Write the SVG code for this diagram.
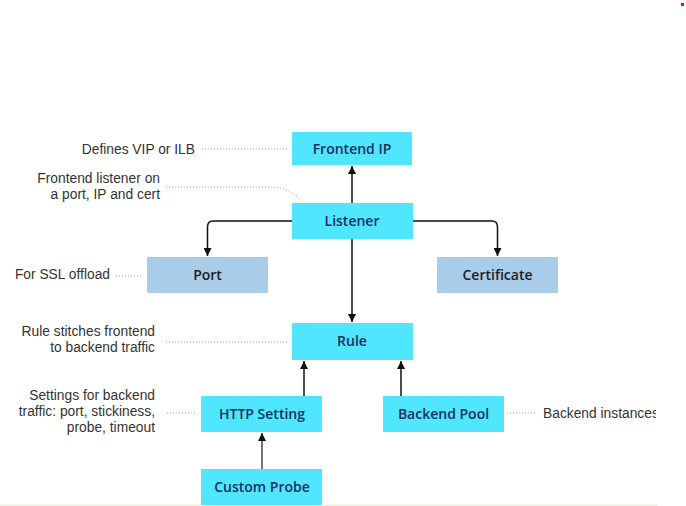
<svg xmlns="http://www.w3.org/2000/svg" width="686" height="506" viewBox="0 0 686 506">
<defs>
<style>
.n{fill:#50e6ff}
.g{fill:#a9cce9}
.t{font-family:"Open Sans","Noto Sans",sans-serif;font-size:14px;font-weight:600;fill:#16305e;text-anchor:middle}
.tg{fill:#1e1e1e}
.a{font-family:"Liberation Sans",Arial,sans-serif;font-size:13.8px;fill:#333;text-anchor:end}
.c{fill:none;stroke:#111;stroke-width:1.5}
.d{fill:none;stroke:#999;stroke-width:1;stroke-dasharray:1 2}
</style>
<marker id="ah" viewBox="0 0 10 10" refX="10" refY="5" markerWidth="8" markerHeight="8" markerUnits="userSpaceOnUse" orient="auto">
<path d="M0,0 L10,5 L0,10 z" fill="#111"/>
</marker>
<clipPath id="clip"><rect x="0" y="0" width="656" height="506"/></clipPath>
</defs>
<rect width="686" height="506" fill="#fff"/>
<rect x="0" y="504.5" width="657" height="1.5" fill="#f3ede0"/>
<rect x="681" y="3" width="3" height="3" fill="#e81123"/>
<g id="connectors">
<path class="c" d="M352,203 V166" marker-end="url(#ah)"/>
<path class="c" d="M292,221 H213 Q207.5,221 207.5,227 V256" marker-end="url(#ah)"/>
<path class="c" d="M412,221 H492 Q497.5,221 497.5,227 V256" marker-end="url(#ah)"/>
<path class="c" d="M352,238 V322" marker-end="url(#ah)"/>
<path class="c" d="M304,396 V361" marker-end="url(#ah)"/>
<path class="c" d="M401,396 V361" marker-end="url(#ah)"/>
<path class="c" d="M262,469 V433" marker-end="url(#ah)" style="stroke:#444"/>
</g>
<g id="annotations">
<path class="d" d="M202,149 H287"/>
<text class="a" x="195" y="154">Defines VIP or ILB</text>
<path class="d" d="M166,187 H268 Q290,187 299,199"/>
<text class="a" x="160" y="183">Frontend listener on</text>
<text class="a" x="160" y="199">a port, IP and cert</text>
<path class="d" d="M116,276 H143"/>
<text class="a" x="110" y="279">For SSL offload</text>
<path class="d" d="M166,342 H288"/>
<text class="a" x="155" y="336">Rule stitches frontend</text>
<text class="a" x="155" y="352">to backend traffic</text>
<path class="d" d="M167,413 H197"/>
<text class="a" x="155" y="400">Settings for backend</text>
<text class="a" x="155" y="416">traffic: port, stickiness,</text>
<text class="a" x="155" y="432">probe, timeout</text>
<path class="d" d="M507,413 H537"/>
<text class="a" x="543" y="418" style="text-anchor:start" clip-path="url(#clip)">Backend instances</text>
</g>
<g id="frontend-ip"><rect class="n" x="292" y="132" width="120" height="33"/><text class="t" x="352" y="154">Frontend IP</text></g>
<g id="listener"><rect class="n" x="292" y="203" width="121" height="36"/><text class="t" x="352" y="226">Listener</text></g>
<g id="port"><rect class="g" x="147" y="257" width="121" height="36"/><text class="t tg" x="207.5" y="280">Port</text></g>
<g id="certificate"><rect class="g" x="437" y="257" width="121" height="36"/><text class="t tg" x="497.5" y="280">Certificate</text></g>
<g id="rule"><rect class="n" x="292" y="323" width="121" height="37"/><text class="t" x="352" y="346">Rule</text></g>
<g id="http-setting"><rect class="n" x="201" y="396" width="121" height="36"/><text class="t" x="262" y="419">HTTP Setting</text></g>
<g id="backend-pool"><rect class="n" x="383" y="396" width="121" height="36"/><text class="t" x="443.5" y="419">Backend Pool</text></g>
<g id="custom-probe"><rect class="n" x="201" y="469" width="121" height="36"/><text class="t" x="262" y="492">Custom Probe</text></g>
</svg>
